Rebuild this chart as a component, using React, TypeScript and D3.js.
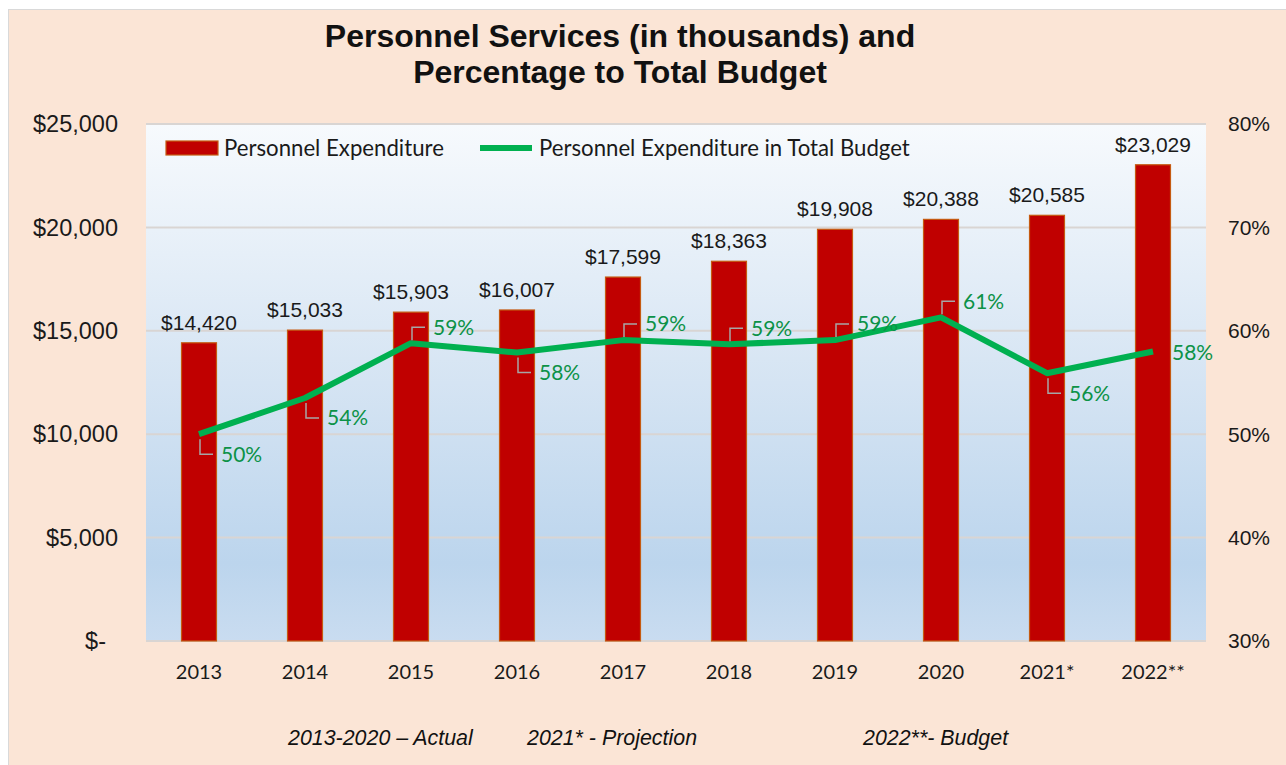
import React from "react";
import * as d3 from "d3";

const years = ["2013", "2014", "2015", "2016", "2017", "2018", "2019", "2020", "2021*", "2022**"];
const personnel = [14420, 15033, 15903, 16007, 17599, 18363, 19908, 20388, 20585, 23029];
const pctOfBudget = [50.0, 53.5, 58.8, 57.9, 59.1, 58.7, 59.1, 61.3, 55.9, 58.0];
const pctLabels = ["50%", "54%", "59%", "58%", "59%", "59%", "59%", "61%", "56%", "58%"];
const labelSide = ["below", "below", "above", "below", "above", "above", "above", "above", "below", "right"];
const leftTicks = [0, 5000, 10000, 15000, 20000, 25000];
const rightTicks = [30, 40, 50, 60, 70, 80];
const notes = [
  { text: "2013-2020 \u2013 Actual", x: 288 },
  { text: "2021* - Projection", x: 527 },
  { text: "2022**- Budget", x: 863 },
];

const W = 1286;
const H = 765;
const plot = { left: 146, right: 1206, top: 124, bottom: 641 };

const arial = "'Liberation Sans', Arial, sans-serif";
const calibri = "Lato, 'Noto Sans', sans-serif";
const green = "#00b050";
const labelGreen = "#0c9247";

export default function App() {
  const x = d3.scaleBand().domain(years).range([plot.left, plot.right]);
  const yL = d3.scaleLinear().domain([0, 25000]).range([plot.bottom, plot.top]);
  const yR = d3.scaleLinear().domain([30, 80]).range([plot.bottom, plot.top]);
  const barW = x.bandwidth() * 0.33;
  const cx = (d: string) => (x(d) ?? 0) + x.bandwidth() / 2;

  const line = d3
    .line<number>()
    .x((_, i) => cx(years[i]))
    .y((d) => yR(d));

  const fmt = d3.format(",");

  return (
    <svg
      width={W}
      height={H}
      style={{ position: "absolute", left: 0, top: 0 }}
    >
      <defs>
        <linearGradient id="plotBg" x1="0" y1="0" x2="0" y2="1">
          <stop offset="0" stopColor="#f7fafd" />
          <stop offset="0.5" stopColor="#d5e4f3" />
          <stop offset="0.85" stopColor="#bcd5ed" />
          <stop offset="1" stopColor="#c9dcf0" />
        </linearGradient>
      </defs>
      <rect x={8.5} y={9.5} width={1290} height={770} fill="#fbe5d6" stroke="#d9d9d9" />

      {/* title */}
      <text x={620} y={47} textAnchor="middle" fontFamily={arial} fontWeight="bold" fontSize={32} fill="#111">
        Personnel Services (in thousands) and
      </text>
      <text x={620} y={83} textAnchor="middle" fontFamily={arial} fontWeight="bold" fontSize={32} fill="#111">
        Percentage to Total Budget
      </text>

      {/* plot area */}
      <rect
        x={plot.left}
        y={plot.top}
        width={plot.right - plot.left}
        height={plot.bottom - plot.top}
        fill="url(#plotBg)"
      />
      {leftTicks.map((t) => (
        <line
          key={t}
          x1={plot.left}
          x2={plot.right}
          y1={yL(t)}
          y2={yL(t)}
          stroke="#d9d5d3"
          strokeWidth={2}
        />
      ))}

      {/* left axis */}
      {leftTicks.map((t) => (
        <text
          key={t}
          x={t === 0 ? 106 : 118}
          y={yL(t)}
          dy="0.35em"
          textAnchor="end"
          fontFamily={arial}
          fontSize={23.5}
          fill="#1a1a1a"
        >
          {t === 0 ? "$-" : "$" + fmt(t)}
        </text>
      ))}

      {/* right axis */}
      {rightTicks.map((t) => (
        <text
          key={t}
          x={1228}
          y={yR(t)}
          dy="0.35em"
          fontFamily={arial}
          fontSize={21}
          fill="#1a1a1a"
        >
          {t + "%"}
        </text>
      ))}

      {/* x labels */}
      {years.map((d) => (
        <text
          key={d}
          x={cx(d)}
          y={679}
          textAnchor="middle"
          fontFamily={calibri}
          fontSize={20}
          fill="#1a1a1a"
        >
          {d}
        </text>
      ))}

      {/* bars */}
      {personnel.map((v, i) => (
        <rect
          key={i}
          x={cx(years[i]) - barW / 2}
          y={yL(v)}
          width={barW}
          height={yL(0) - yL(v)}
          fill="#c00000"
          stroke="#c55a11"
          strokeWidth={1.2}
        />
      ))}
      {personnel.map((v, i) => (
        <text
          key={i}
          x={cx(years[i])}
          y={yL(v) - 13}
          textAnchor="middle"
          fontFamily={arial}
          fontSize={21}
          fill="#1a1a1a"
        >
          {"$" + fmt(v)}
        </text>
      ))}

      {/* line */}
      <path d={line(pctOfBudget) ?? ""} fill="none" stroke={green} strokeWidth={6} strokeLinejoin="round" />

      {/* pct labels with leaders */}
      {pctOfBudget.map((v, i) => {
        const px = cx(years[i]);
        const py = yR(v);
        const side = labelSide[i];
        if (side === "right") {
          return (
            <text key={i} x={px + 19} y={py + 1} dy="0.35em" fontFamily={calibri} fontSize={21} fill={labelGreen}>
              {pctLabels[i]}
            </text>
          );
        }
        const ly = side === "below" ? py + 20 : py - 16;
        return (
          <g key={i}>
            <polyline
              points={`${px + 1},${side === "below" ? py + 5 : py - 3} ${px + 1},${ly} ${px + 14},${ly}`}
              fill="none"
              stroke="#a6a6a6"
              strokeWidth={1.5}
            />
            <text x={px + 22} y={ly} dy="0.35em" fontFamily={calibri} fontSize={21} fill={labelGreen}>
              {pctLabels[i]}
            </text>
          </g>
        );
      })}

      {/* legend */}
      <rect x={166} y={141} width={52} height={14} fill="#c00000" stroke="#c55a11" strokeWidth={1.2} />
      <text x={224} y={148} dy="0.35em" fontFamily={calibri} fontSize={22.2} fill="#1a1a1a">
        Personnel Expenditure
      </text>
      <line x1={480} x2={532} y1={148} y2={148} stroke={green} strokeWidth={6} />
      <text x={539} y={148} dy="0.35em" fontFamily={calibri} fontSize={22.2} fill="#1a1a1a">
        Personnel Expenditure in Total Budget
      </text>

      {/* footnotes */}
      {notes.map((n) => (
        <text key={n.text} x={n.x} y={745} fontFamily={arial} fontStyle="italic" fontSize={21.4} fill="#111">
          {n.text}
        </text>
      ))}
    </svg>
  );
}
